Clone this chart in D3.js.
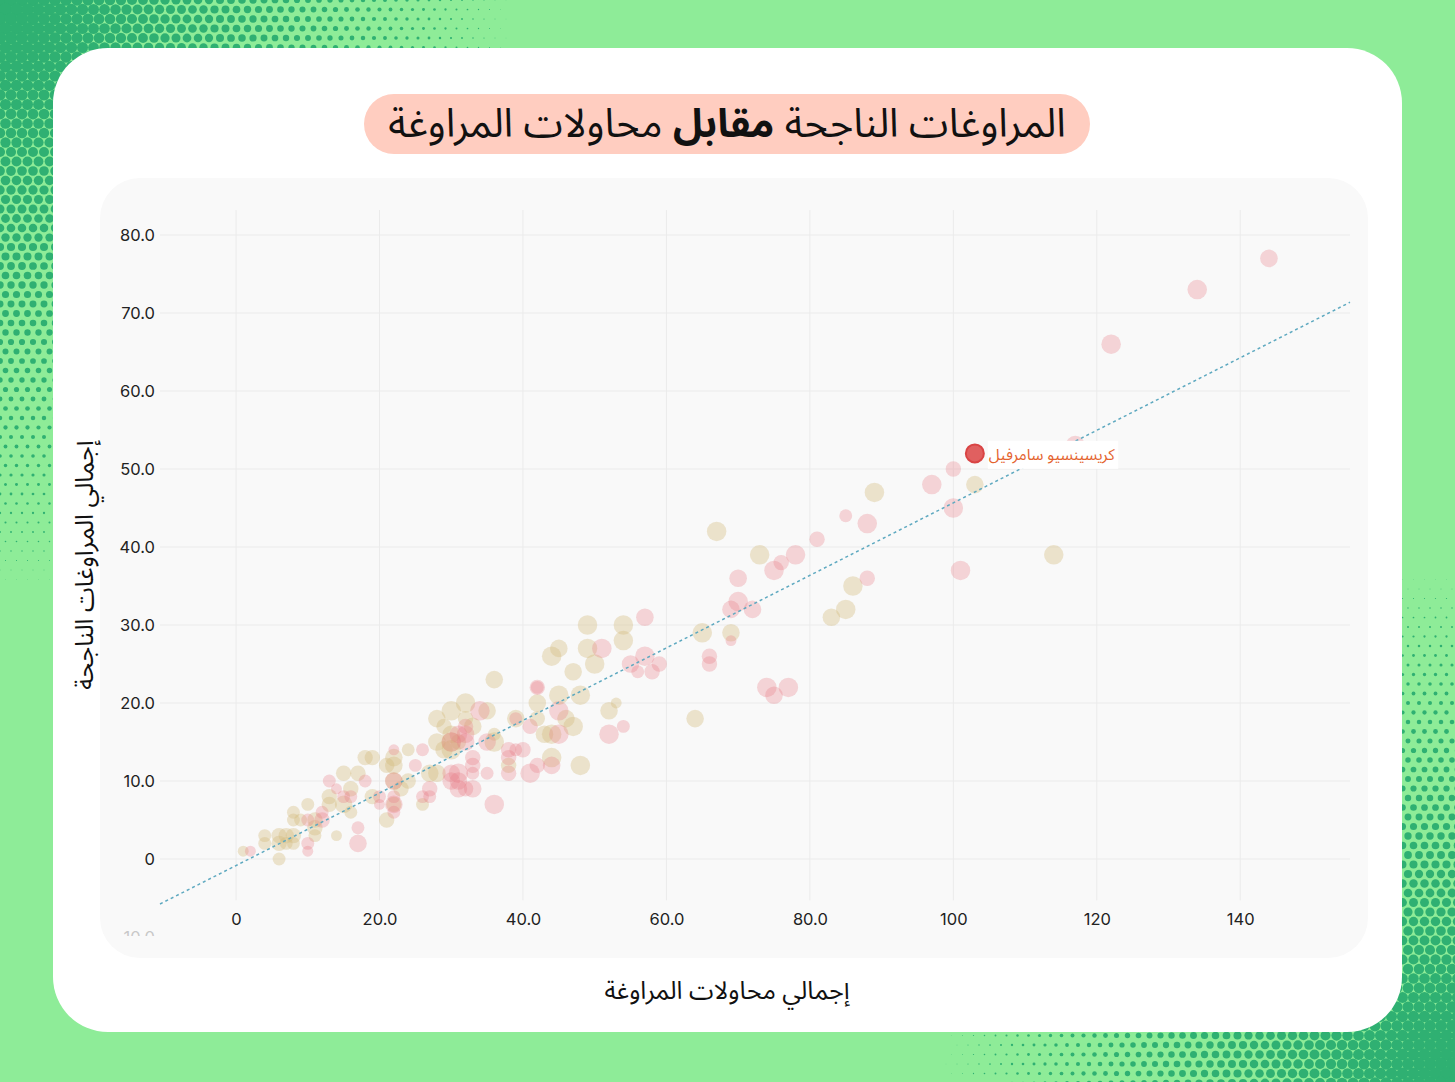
<!DOCTYPE html>
<html>
<head>
<meta charset="utf-8">
<script src="https://cdn.jsdelivr.net/npm/d3@7"></script>
<style>
  body { margin: 0; background: #8eec98; }
  svg { display: block; }
</style>
</head>
<body>
<svg id="chart" width="1455" height="1082"></svg>
<script>
// tan group
var tanAttempts = [1,4,4,6,6,6,7,7,8,8, 8,8,9,10,11,11,11,13,13,14, 15,15,16,16,17,18,19,19,21,21,
  22,22,22,22,23,24,24,26,27,28, 28,28,29,29,30,30,30,30,31,32, 32,33,35,36,36,36,38,39,42,42,
  43,44,44,44,45,45,46,47,47,48, 48,49,49,50,52,53,54,54,64,65, 67,69,73,83,85,86,89,103,114];
var tanSuccesses = [1,3,2,0,3,2,3,2,2,3, 5,6,5,7,5,4,3,8,7,3, 11,7,9,6,11,13,13,8,5,12,
  10,7,13,12,9,14,10,7,11,11, 15,18,14,17,15,14,16,19,15,20, 18,17,19,23,15,16,12,18,20,18,
  16,16,26,13,27,21,18,17,24,21, 12,30,27,25,19,20,30,28,18,29, 42,29,39,31,32,35,47,48,39];
var tanMatches = [10,14,14,14,20,20,20,14,14,20, 14,14,14,14,20,20,14,20,20,10, 20,26,20,14,20,20,20,20,20,20,
  26,20,26,26,20,14,20,14,26,26, 26,26,26,20,32,32,26,32,20,32, 20,26,26,26,32,14,20,26,26,20,
  26,32,32,32,26,32,26,32,26,32, 32,32,32,32,26,10,32,32,26,32, 32,26,32,26,32,32,32,26,32];

// pink group
var pinkAttempts = [2,10,10,10,12,12,13,14,15,16, 17,17,18,20,20,22,22,22,22,22, 25,26,26,27,27,30,30,30,31,31,
  31,31,32,32,32,32,33,33,33,33, 34,35,35,36,38,38,38,39,39,40, 41,41,42,42,42,44,45,45,51,52,
  54,55,56,57,57,58,59,66,66,69, 69,70,70,72,74,75,75,76,77,78, 81,85,88,88,97,100,100,101,117,122, 134,144];
var pinkSuccesses = [1,5,2,1,6,5,10,9,8,8, 4,2,10,8,7,14,8,6,10,7, 12,14,8,8,9,15,11,10,11,10,
  9,16,17,16,15,9,13,12,11,9, 19,15,11,7,14,13,11,18,14,14, 17,11,22,22,12,12,19,16,27,16,
  17,25,24,31,26,24,25,26,25,28, 32,36,33,32,22,21,37,38,22,39, 41,44,43,36,48,50,45,37,53,66, 73,77];
var pinkMatches = [10,14,14,10,14,20,14,10,14,14, 14,26,14,14,10,10,14,14,26,26, 14,14,14,14,20,32,26,26,32,26,
  26,26,20,26,26,20,20,20,14,26, 32,26,14,32,20,20,20,14,14,20, 20,32,20,14,20,26,32,32,32,32,
  14,26,14,26,32,20,20,20,20,10, 26,26,32,26,32,26,32,20,32,32, 20,14,32,20,32,20,32,32,32,32, 32,26];

// highlighted player
var highlightName = "كريسينسيو سامرفيل";
var highlightAttempts = 103;
var highlightSuccesses = 52;

// ticks
var xTicks = [0, 20, 40, 60, 80, 100, 120, 140];
var xTickLabels = ["0", "20.0", "40.0", "60.0", "80.0", "100", "120", "140"];
var yTicks = [-10, 0, 10, 20, 30, 40, 50, 60, 70, 80];
var yTickLabels = ["-10.0", "0", "10.0", "20.0", "30.0", "40.0", "50.0", "60.0", "70.0", "80.0"];

// trend line
var trendSlope = 0.465;
var trendIntercept = -0.84;

var W = 1455, H = 1082;
var arabicFont = "'Noto Sans Arabic', 'DejaVu Sans', sans-serif";
var numFont = "Inter, 'DejaVu Sans', sans-serif";

var svg = d3.select("#chart");

// halftone background
svg.append("rect").attr("width", W).attr("height", H).attr("fill", "#8eec98");
var dots = [];
for (var j = 0; j * 9.5 < H + 10; j++) {
  for (var i = 0; i * 11 < W + 10; i++) {
    var px = i * 11 + (j % 2) * 5.5, py = j * 9.5;
    var t1 = 1 - Math.hypot(px * 1.15, py) / 600;
    var t2 = 1 - Math.hypot(W - px, H - py) / 520;
    var t = Math.max(t1, t2);
    if (t > 0.02) dots.push({ px: px, py: py, r: 6.6 * Math.pow(t, 0.9) });
  }
}
svg.append("g")
  .selectAll("circle")
  .data(dots)
  .join("circle")
  .attr("cx", (d) => d.px)
  .attr("cy", (d) => d.py)
  .attr("r", (d) => d.r)
  .attr("fill", "#2fb072");

// card and panel
svg.append("rect").attr("x", 53).attr("y", 48).attr("width", 1349).attr("height", 984)
  .attr("rx", 55).attr("fill", "#ffffff");
svg.append("rect").attr("x", 100).attr("y", 178).attr("width", 1268).attr("height", 780)
  .attr("rx", 40).attr("fill", "#f9f9f9");

// title
svg.append("rect").attr("x", 364).attr("y", 94).attr("width", 726).attr("height", 60)
  .attr("rx", 30).attr("fill", "#ffcdc0");
var title = svg.append("text")
  .attr("x", 727).attr("y", 137)
  .attr("text-anchor", "middle")
  .attr("direction", "rtl")
  .style("font-family", arabicFont)
  .style("font-size", "40px")
  .attr("fill", "#111");
title.append("tspan").text("المراوغات الناجحة ");
title.append("tspan").attr("font-weight", "bold").text("مقابل");
title.append("tspan").text(" محاولات المراوغة");

// scales
var x = d3.scaleLinear().domain([-10.6, 155.3]).range([160, 1350]);
var y = d3.scaleLinear().domain([0, 80]).range([859, 235]);
var yExtent = [-5.3, 83.2];
var r = d3.scaleSqrt().domain([0, 40]).range([0, 10.9]);

// grid
var grid = svg.append("g").attr("stroke", "#ebebeb").attr("stroke-width", 1);
grid.selectAll("line.h")
  .data(yTicks.filter((d) => d >= 0))
  .join("line")
  .attr("class", "h")
  .attr("x1", x.range()[0]).attr("x2", x.range()[1])
  .attr("y1", (d) => y(d)).attr("y2", (d) => y(d));
grid.selectAll("line.v")
  .data(xTicks)
  .join("line")
  .attr("class", "v")
  .attr("x1", (d) => x(d)).attr("x2", (d) => x(d))
  .attr("y1", y(yExtent[1])).attr("y2", y(yExtent[0]));

// axes (labels only); the lowest label is cut off by the plot frame
svg.append("clipPath").attr("id", "yclip")
  .append("rect").attr("x", -200).attr("y", 0).attr("width", 300).attr("height", 936);

var yAxis = svg.append("g")
  .attr("transform", "translate(160,0)")
  .attr("clip-path", "url(#yclip)")
  .call(d3.axisLeft(y).tickValues(yTicks).tickFormat((d, i) => yTickLabels[i]).tickSize(0).tickPadding(5));
yAxis.select(".domain").remove();
yAxis.selectAll("text")
  .style("font-family", numFont).style("font-size", "16.5px")
  .attr("fill", (d) => (d < 0 ? "#c8c8c8" : "#222"));

var xAxis = svg.append("g")
  .attr("transform", "translate(0,904)")
  .call(d3.axisBottom(x).tickValues(xTicks).tickFormat((d, i) => xTickLabels[i]).tickSize(0).tickPadding(9));
xAxis.select(".domain").remove();
xAxis.selectAll("text")
  .style("font-family", numFont).style("font-size", "16.5px").attr("fill", "#222");

// axis titles
svg.append("text")
  .attr("x", 727).attr("y", 999)
  .attr("text-anchor", "middle")
  .style("font-family", arabicFont).style("font-size", "25px").attr("fill", "#111")
  .text("إجمالي محاولات المراوغة");
svg.append("text")
  .attr("transform", "translate(93,565) rotate(-90)")
  .attr("text-anchor", "middle")
  .style("font-family", arabicFont).style("font-size", "25px").attr("fill", "#111")
  .text("إجمالي المراوغات الناجحة");

// points
var points = [];
tanAttempts.forEach((d, i) => {
  points.push({ x: d, y: tanSuccesses[i], m: tanMatches[i], g: "tan" });
});
pinkAttempts.forEach((d, i) => {
  points.push({ x: d, y: pinkSuccesses[i], m: pinkMatches[i], g: "pink" });
});

svg.append("g")
  .selectAll("circle")
  .data(points)
  .join("circle")
  .attr("cx", (d) => x(d.x))
  .attr("cy", (d) => y(d.y))
  .attr("r", (d) => r(d.m))
  .attr("fill", (d) => (d.g === "tan" ? "rgba(212,186,122,0.36)" : "rgba(232,122,134,0.3)"));

// trend line
var trendX = x.domain();
svg.append("path")
  .datum(trendX.map((d) => [d, trendSlope * d + trendIntercept]))
  .attr("d", d3.line().x((d) => x(d[0])).y((d) => y(d[1])))
  .attr("fill", "none")
  .attr("stroke", "#5ea9c0")
  .attr("stroke-width", 1.5)
  .attr("stroke-dasharray", "3,3");

// highlighted player
var hx = x(highlightAttempts), hy = y(highlightSuccesses);
svg.append("circle")
  .attr("cx", hx).attr("cy", hy).attr("r", 9)
  .attr("fill", "#e06060")
  .attr("stroke", "#d94444")
  .attr("stroke-width", 2);
var labelG = svg.append("g");
var labelBg = labelG.append("rect").attr("fill", "#ffffff");
var label = labelG.append("text")
  .attr("x", hx + 14).attr("y", hy + 1)
  .attr("dy", "0.35em")
  .style("font-family", arabicFont).style("font-size", "15.5px")
  .attr("fill", "#e4632e")
  .text(highlightName);
var bb = label.node().getBBox();
labelBg.attr("x", bb.x - 1).attr("y", bb.y + 2).attr("width", bb.width + 4).attr("height", bb.height - 4);
</script>
</body>
</html>
